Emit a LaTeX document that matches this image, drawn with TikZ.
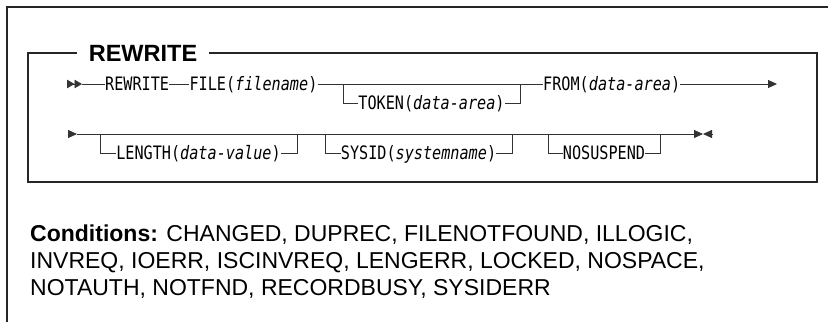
\documentclass[tikz,border=0pt]{standalone}
\usepackage{fontspec}
\setmainfont{Liberation Sans}
\newfontfamily\synfont[FakeStretch=0.82]{DejaVu Sans Mono}
\usetikzlibrary{arrows.meta, positioning}
\tikzset{
  kw/.style={inner sep=0pt, text height=13.5pt, text depth=0pt,
    font=\synfont\fontsize{18.5}{20}\selectfont},
  synline/.style={line width=0.8pt, draw=black!80},
  frameline/.style={line width=1.3pt, draw=black!85},
  endtip/.style={-{Triangle[length=9pt,width=8pt]}},
  starttip/.style={-{Triangle[length=7.5pt,width=8.5pt]Triangle[length=7.5pt,width=8.5pt]}},
  title/.style={font=\bfseries\fontsize{23.5}{24}\selectfont,
    inner xsep=12pt, inner ysep=0pt, text height=16.8pt, text depth=0pt},
  cond/.style={font=\fontsize{23}{27}\selectfont, align=left, inner sep=0pt},
}

\begin{document}
\begin{tikzpicture}[x=1pt, y=-1pt]
  \useasboundingbox (0,0) rectangle (828,322);

  % outer frame
  \draw[frameline] (828,7) -- (7,7) -- (7,322);

  % box with title
  \node[title] (ttl) at (143,53) {REWRITE};
  \draw[frameline] (ttl.west) -- (28,53) -- (28,182) -- (817,182)
    -- (817,53) -- (ttl.east);

  % first line
  \coordinate (s1) at (67,84);
  \coordinate (s1b) at (82,84);
  \coordinate (j1) at (343,84);
  \coordinate (j2) at (520,84);
  \coordinate (e1) at (777,84);
  \node[kw, right=23pt of s1b] (rw) {REWRITE};
  \node[kw, right=20pt of rw] (fil) {FILE(\textit{filename})};
  \node[kw] (tok) at (431.5,103) {TOKEN(\textit{data-area})};
  \node[kw, right=23pt of j2] (frm) {FROM(\textit{data-area})};

  \draw[synline, starttip] (s1) -- (s1b);
  \draw[synline] (s1b) -- (rw) -- (fil) -- (frm);
  \draw[synline, endtip] (frm) -- (e1);
  \draw[synline] (j1) |- (tok) -| (j2);

  % second line
  \coordinate (s2) at (68,134);
  \coordinate (s2b) at (77,134);
  \coordinate (e2) at (703,134);
  \coordinate (e2b) at (712,134);
  \coordinate (ka) at (100,134);
  \coordinate (kb) at (297,134);
  \coordinate (ma) at (325,134);
  \coordinate (mb) at (512,134);
  \coordinate (na) at (548,134);
  \coordinate (nb) at (660,134);
  \node[kw] (len) at (198.5,153) {LENGTH(\textit{data-value})};
  \node[kw] (sys) at (418.5,153) {SYSID(\textit{systemname})};
  \node[kw] (nos) at (604,153) {NOSUSPEND};

  \draw[synline, endtip] (s2) -- (s2b);
  \draw[synline, endtip] (s2b) -- (e2);
  \draw[synline, endtip] (e2b) -- (e2);
  \draw[synline] (ka) |- (len) -| (kb);
  \draw[synline] (ma) |- (sys) -| (mb);
  \draw[synline] (na) |- (nos) -| (nb);

  % conditions
  \node[cond, anchor=base west] (cnd) at (30,295)
    {\textbf{Conditions:} CHANGED, DUPREC, FILENOTFOUND, ILLOGIC,\\
     INVREQ, IOERR, ISCINVREQ, LENGERR, LOCKED, NOSPACE,\\
     NOTAUTH, NOTFND, RECORDBUSY, SYSIDERR};
\end{tikzpicture}
\end{document}
